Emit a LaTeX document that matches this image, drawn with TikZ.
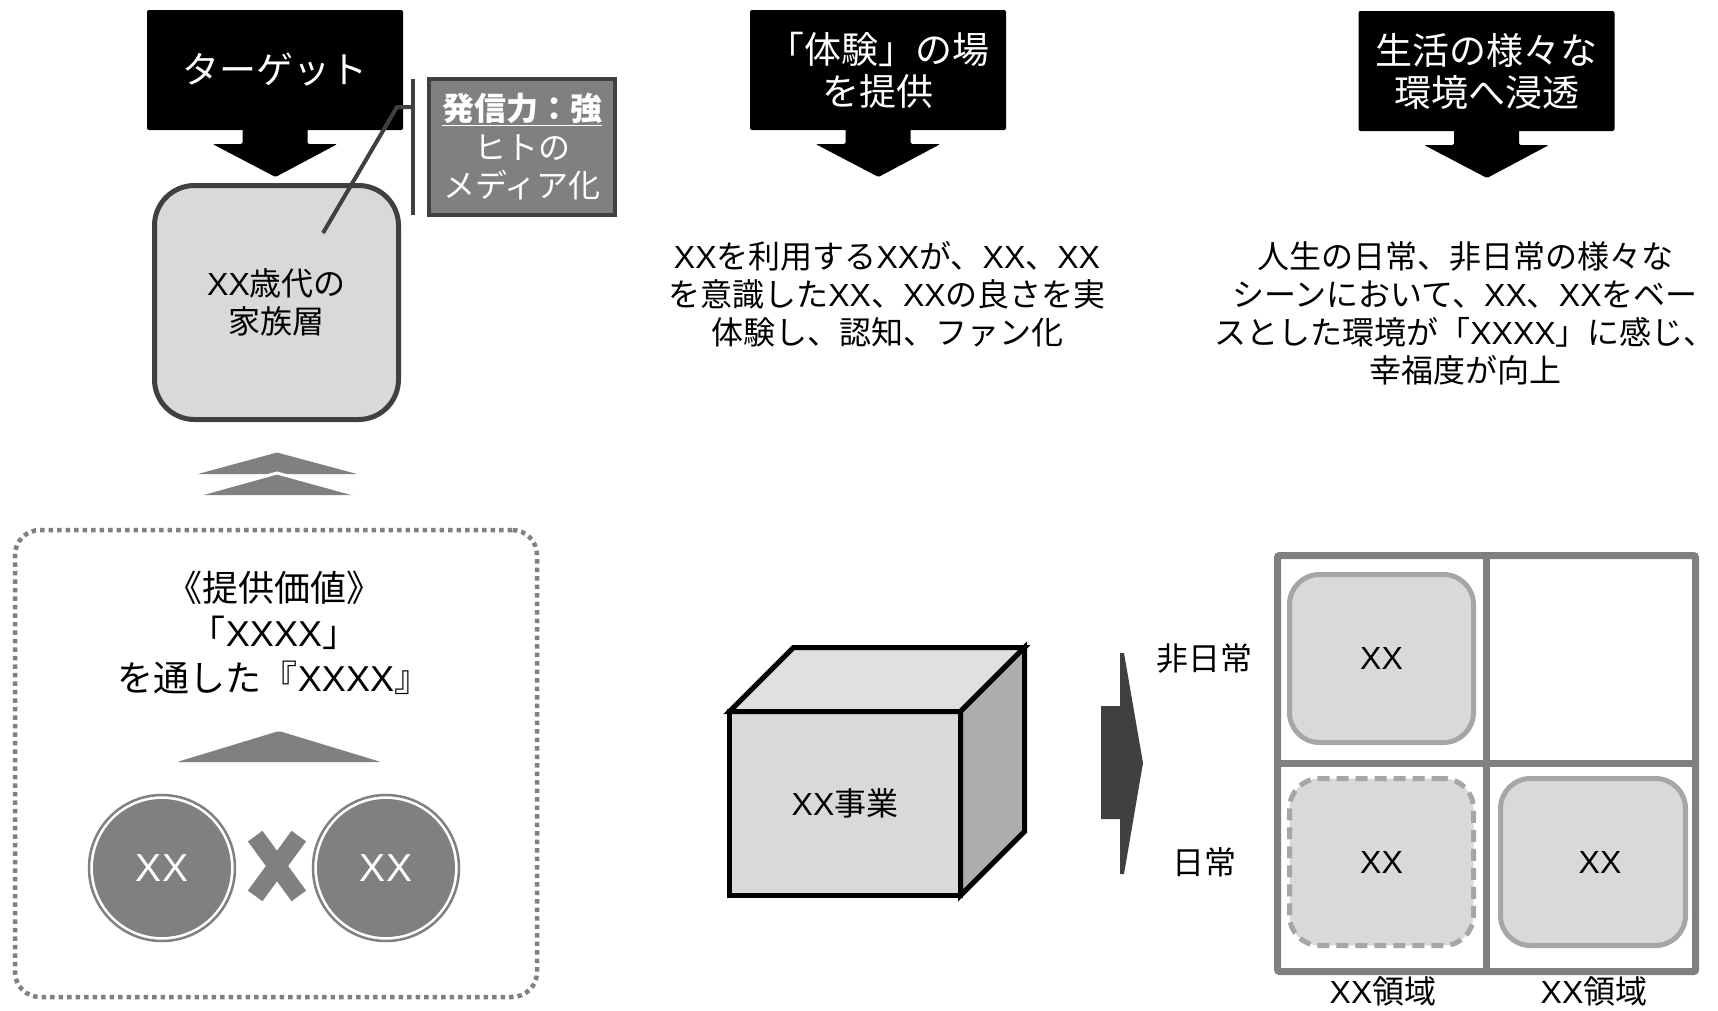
\documentclass[tikz,border=0pt]{standalone}
\usepackage{fontspec}
\setmainfont{Noto Sans CJK JP}
\newfontfamily\latf{Liberation Sans}
\newcommand\lx[1]{{\latf #1}}
\usetikzlibrary{calc}
\definecolor{dk}{HTML}{404040}
\definecolor{gm}{HTML}{808080}
\definecolor{lg}{HTML}{D9D9D9}
\definecolor{lb}{HTML}{A6A6A6}
\definecolor{topf}{HTML}{E0E0E0}
\definecolor{sidef}{HTML}{ADADAD}
\begin{document}
\begin{tikzpicture}[x=1pt,y=-1pt,
  title/.style={fill=black, text=white, rounded corners=2pt, minimum width=256pt, minimum height=120pt, inner sep=0pt, outer sep=0pt, align=center, font=\fontsize{37}{42}\selectfont},
  body/.style={align=center, inner sep=0pt, font=\fontsize{32}{38}\selectfont},
  lab/.style={inner sep=0pt, font=\fontsize{32}{38}\selectfont},
  cellbox/.style={draw=lb, line width=5pt, fill=lg, rounded corners=30pt, minimum width=184pt, minimum height=168pt, inner sep=0pt, outer sep=0pt, font=\fontsize{32}{38}\selectfont},
  ring/.style={circle, draw=gm, line width=2.5pt, minimum size=146pt, inner sep=0pt},
  disc/.style={circle, fill=gm, minimum size=138pt, inner sep=0pt, text=white, font=\fontsize{39}{39}\selectfont},
  leader/.style={draw=dk, line width=4pt}
]
\fill[white] (0,0) rectangle (1718,1010);
\useasboundingbox (0,0) rectangle (1718,1010);

% title boxes with down arrows
\node[title] (t1) at (275,70) {ターゲット};
\node[title] (t2) at (878,70) {「体験」の場\\を提供};
\node[title] (t3) at (1486.5,71) {生活の様々な\\環境へ浸透};
\foreach \n in {t1,t2,t3}{
  \fill[black, rounded corners=1.5pt] ($(\n.south)+(-32.5,-2)$) -- ($(\n.south)+(32.5,-2)$) -- ($(\n.south)+(32.5,14)$) -- ($(\n.south)+(62.5,14)$) -- ($(\n.south)+(0.5,47)$) -- ($(\n.south)+(-62.5,14)$) -- ($(\n.south)+(-32.5,14)$) -- cycle;
}

% family box
\node[draw=dk, line width=5pt, fill=lg, rounded corners=40pt, minimum width=244pt, minimum height=234pt, inner sep=0pt, outer sep=0pt, align=center, font=\fontsize{32}{38}\selectfont] (fam) at (276.5,302.5) {\lx{XX}歳代の\\家族層};

% callout
\node[draw=dk, line width=4pt, fill=gm, text=white, minimum width=186pt, minimum height=136pt, inner sep=0pt, outer sep=0pt, align=center, font=\fontsize{32}{38.5}\selectfont] (call) at (522,147) {\textbf{\underline{発信力：強}}\\ヒトの\\メディア化};
\coordinate (bt) at (413,79);
\coordinate (bb) at (413,215);
\coordinate (lk) at (413,107);
\coordinate (lp) at (323,233);
\draw[leader] (bt) -- (bb);
\draw[leader] (lk) -- ($(lk)+(-16,0)$) -- (lp);

% double chevron
\fill[gm] (198,474) -- (277,452.5) -- (357,474) -- cycle;
\fill[gm] (198,495) -- (277,473) -- (357,495) -- cycle;
\draw[white, line width=3pt] (196,495.5) -- (277,473) -- (359,495.5);

% dotted value box
\node[draw=gm, line width=4.5pt, dash pattern=on 4.5pt off 4pt, rounded corners=25pt, minimum width=522pt, minimum height=467pt, inner sep=0pt, outer sep=0pt] (valbox) at (276,763.5) {};
\node[align=center, inner sep=0pt, font=\fontsize{36}{45}\selectfont] (val) at (274,633) {《提供価値》\\「\lx{XXXX}」\\を通した『\lx{XXXX}』};
\fill[gm, rounded corners=2pt] (177,762) -- (279,731) -- (381,762) -- cycle;

% circles
\node[ring] (c1) at (162,868) {};
\node[disc] (d1) at (c1) {\lx{XX}};
\node[ring] (c2) at (386,868) {};
\node[disc] (d2) at (c2) {\lx{XX}};
\draw[gm, line width=18pt] (255.2,836.1) -- (298.8,895.9);
\draw[gm, line width=18pt] (298.8,836.1) -- (255.2,895.9);

% body texts
\node[body] (b2) at (887,294) {\lx{XX}を利用する\lx{XX}が、\lx{XX}、\lx{XX}\\を意識した\lx{XX}、\lx{XX}の良さを実\\体験し、認知、ファン化};
\node[body] (b3) at (1465,313) {人生の日常、非日常の様々な\\シーンにおいて、\lx{XX}、\lx{XX}をベー\\スとした環境が「\lx{XXXX}」に感じ、\hspace*{24pt}\\幸福度が向上};

% cube
\node[draw=black, line width=5pt, fill=lg, minimum width=231pt, minimum height=184pt, inner sep=0pt, outer sep=0pt, font=\fontsize{32}{38}\selectfont] (cube) at (845,803.5) {\lx{XX}事業};
\filldraw[fill=topf, draw=black, line width=5pt, line join=miter] (cube.north west) -- ++(64,-64) -- ++(231,0) -- (cube.north east) -- cycle;
\filldraw[fill=sidef, draw=black, line width=5pt, line join=miter] (cube.north east) -- ++(64,-64) -- ++(0,184) -- (cube.south east) -- cycle;

% right arrow
\fill[dk] (1101,706) -- (1120,706) -- (1120,653) -- (1124,653) -- (1143,763) -- (1124,874) -- (1120,874) -- (1120,819) -- (1101,819) -- cycle;

% grid
\node[draw=gm, line width=7pt, rounded corners=2pt, minimum width=418pt, minimum height=416pt, inner sep=0pt, outer sep=0pt] (grid) at (1486.5,763.5) {};
\draw[gm, line width=7pt] (grid.north) -- (grid.south);
\draw[gm, line width=7pt] (grid.west) -- (grid.east);
\node[cellbox] (q1) at (1381.5,658.5) {\lx{XX}};
\node[cellbox, dash pattern=on 12pt off 7pt, minimum height=167pt] (q3) at (1381.5,862) {\lx{XX}};
\node[cellbox, minimum width=185pt, minimum height=167pt] (q4) at (1593,862) {\hspace*{14pt}\lx{XX}};
\node[lab] (ne) at (1204,658) {非日常};
\node[lab] (ni) at (1204,862) {日常};
\node[lab] (ax1) at (1383,991) {\lx{XX}領域};
\node[lab] (ax2) at (1594,991) {\lx{XX}領域};
\end{tikzpicture}
\end{document}
